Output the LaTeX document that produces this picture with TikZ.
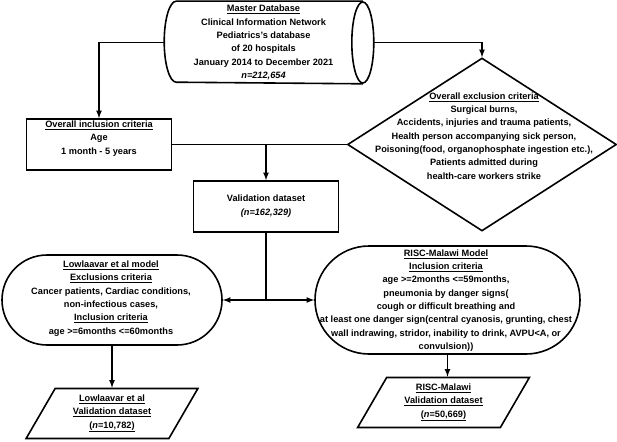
\documentclass[tikz,border=0pt]{standalone}
\usepackage{fontspec}
\setmainfont{Liberation Sans}
\usepackage{tikz}
\usetikzlibrary{arrows,shapes,calc}

\begin{document}
\begin{tikzpicture}[x=1pt,y=-1pt,line width=1.6pt,>=latex,
    txt/.style={align=center,font=\bfseries\fontsize{9.2}{13.3}\selectfont,inner sep=0pt},
    shp/.style={draw,inner sep=0pt},
    box/.style={shp,rectangle,minimum width=145pt,minimum height=51pt},
    crit/.style={shp,diamond,minimum width=269pt,minimum height=173pt},
    model/.style={shp,rounded rectangle},
    dset/.style={txt,draw,inner sep=2pt,trapezium,trapezium left angle=63,trapezium right angle=117,trapezium stretches=true,minimum width=172pt,minimum height=50pt}]
  \useasboundingbox (0,0) rectangle (617,441);
  % shapes
  \node[inner sep=0pt,minimum width=208pt,minimum height=81pt] (db) at (269,42.5) {};
  \draw ([xshift=-11pt]db.north east) -- ([xshift=12pt]db.north west)
    arc[start angle=90,end angle=270,x radius=12pt,y radius=40.5pt] -- ([xshift=-11pt]db.south east);
  \draw ([xshift=-11pt]db.east) ellipse [x radius=11pt,y radius=40.5pt];
  \node[box] (incl) at (99,144.5) {};
  \node[crit] (excl) at (482,144.5) {};
  \node[box] (valid) at (266,206.5) {};
  \node[model,minimum width=220pt,minimum height=90pt] (lowl) at (112,300) {};
  \node[model,minimum width=265pt,minimum height=108pt] (risc) at (447.5,300) {};
  \node[dset] (lowlval) at (112,413.5) {\underline{Lowlaavar et al}\\\underline{Validation dataset}\\\underline{(\textit{n}=10,782)}};
  \node[dset] (riscval) at (443.5,402.5) {\underline{RISC-Malawi}\\\underline{Validation dataset}\\\underline{(\textit{n}=50,669)}};
  % texts
  \node[txt] (dbtxt) at (263.5,42.5) {\underline{Master Database}\\Clinical Information Network\\Pediatrics's database\\of 20 hospitals\\January 2014 to December 2021\\\textit{n=212,654}};
  \node[txt] (incltxt) at (99,138.5) {\underline{Overall inclusion criteria}\\Age\\1 month - 5 years};
  \node[txt] (excltxt) at (484,136) {\underline{Overall exclusion criteria}\\Surgical burns,\\Accidents, injuries and trauma patients,\\Health person accompanying sick person,\\Poisoning(food, organophosphate ingestion etc.),\\Patients admitted during\\health-care workers strike};
  \node[txt] (validtxt) at (266,206) {Validation dataset\\\textit{(n=162,329)}};
  \node[txt] (lowltxt) at (111,298.5) {\underline{Lowlaavar et al model}\\\underline{Exclusions criteria}\\Cancer patients, Cardiac conditions,\\non-infectious cases,\\\underline{Inclusion criteria}\\age >=6months <=60months};
  \node[txt] (risctxt) at (446,300.5) {\underline{RISC-Malawi Model}\\\underline{Inclusion criteria}\\age >=2months <=59months,\\pneumonia by danger signs(\\cough or difficult breathing and\\at least one danger sign(central cyanosis, grunting, chest\\wall indrawing, stridor, inability to drink, AVPU<A, or\\convulsion))};
  % connectors
  \draw[->] (db.west) -| (incl.north);
  \draw[->] (db.east) -| (excl.north);
  \draw (incl.east) -- (excl.west);
  \draw[->] (incl.east -| valid.north) -- (valid.north);
  \draw (valid.south) -- (valid.south |- lowl.east);
  \draw[->] (valid.south |- lowl.east) -- (lowl.east);
  \draw[->] (valid.south |- lowl.east) -- (risc.west);
  \draw[->] (lowl.south) -- (lowlval.north);
  \draw[->] (risc.south) -- (risc.south |- riscval.north);
\end{tikzpicture}
\end{document}
